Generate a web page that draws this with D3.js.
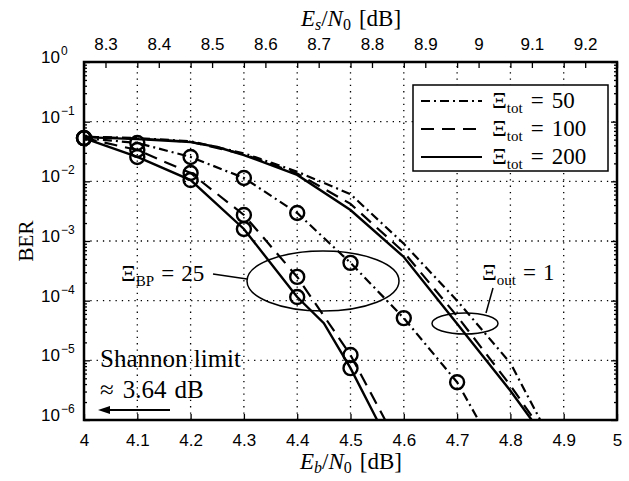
<!DOCTYPE html>
<meta charset="utf-8">
<title>BER vs Eb/N0</title>
<style>
body { margin: 0; background: #fff; }
.tick-label { font: 17px "Liberation Sans", Arial, sans-serif; }
.math { font-family: "Liberation Serif", "Times New Roman", serif; }
</style>
<svg id="chart" width="629" height="481"></svg>
<script src="https://cdn.jsdelivr.net/npm/d3@7"></script>
<script>

// axis ticks
var ebTicks = [4, 4.1, 4.2, 4.3, 4.4, 4.5, 4.6, 4.7, 4.8, 4.9, 5];
var esTicks = [8.3, 8.4, 8.5, 8.6, 8.7, 8.8, 8.9, 9, 9.1, 9.2];
var berExps = [0, -1, -2, -3, -4, -5, -6];
var esOffset = 10 * Math.log10(8 / 3); // Es/N0 - Eb/N0 in dB

// Xi_BP = 25 curves (with circle markers)
var bp50x  = [4.0, 4.1, 4.2, 4.3, 4.4, 4.5, 4.6, 4.7, 4.74];
var bp50y  = [5.3e-2, 4.4e-2, 2.56e-2, 1.14e-2, 2.95e-3, 4.3e-4, 5.1e-5, 4.3e-6, 1e-6];
var bp100x = [4.0, 4.1, 4.2, 4.3, 4.4, 4.5, 4.565];
var bp100y = [5.3e-2, 3.35e-2, 1.38e-2, 2.73e-3, 2.5e-4, 1.23e-5, 1e-6];
var bp200x = [4.0, 4.1, 4.2, 4.3, 4.4, 4.45, 4.5, 4.55];
var bp200y = [5.3e-2, 2.56e-2, 1.05e-2, 1.59e-3, 1.15e-4, 4.2e-5, 7.4e-6, 1e-6];

// Xi_out = 1 curves (no markers)
var out50x  = [4.0, 4.1, 4.2, 4.3, 4.4, 4.5, 4.6, 4.7, 4.8, 4.856];
var out50y  = [5.6e-2, 5.3e-2, 4.7e-2, 2.95e-2, 1.45e-2, 6.1e-3, 9e-4, 1.0e-4, 9e-6, 1e-6];
var out100x = [4.0, 4.1, 4.2, 4.3, 4.4, 4.5, 4.6, 4.7, 4.8, 4.845];
var out100y = [5.6e-2, 5.2e-2, 4.6e-2, 2.85e-2, 1.35e-2, 4.2e-3, 6.5e-4, 5.5e-5, 3.8e-6, 1e-6];
var out200x = [4.0, 4.1, 4.2, 4.25, 4.3, 4.4, 4.5, 4.6, 4.7, 4.8, 4.84];
var out200y = [5.5e-2, 5.1e-2, 4.55e-2, 3.76e-2, 2.76e-2, 1.28e-2, 3.3e-3, 5.4e-4, 4.1e-5, 3.1e-6, 1e-6];

var legendLabels = ["50", "100", "200"];

var dashes = { 50: "9,4,2,4", 100: "13,8", 200: null };

var svg = d3.select("#chart"),
    pLeft = 84, pRight = 617, pTop = 62, pBottom = 420;

var x = d3.scaleLinear().domain([4, 5]).range([pLeft, pRight]);
var xTop = d3.scaleLinear().domain([4 + esOffset, 5 + esOffset]).range([pLeft, pRight]);
var y = d3.scaleLog().domain([1e-6, 1]).range([pBottom, pTop]);

// grid
var grid = svg.append("g").attr("stroke", "#000").attr("stroke-width", 1.3)
    .attr("stroke-dasharray", "1.3,5");
grid.selectAll("line.v").data(ebTicks.slice(1, -1)).enter().append("line")
    .attr("x1", function(d) { return x(d); }).attr("x2", function(d) { return x(d); })
    .attr("y1", pBottom).attr("y2", pTop);
grid.selectAll("line.h").data(berExps.slice(1, -1)).enter().append("line")
    .attr("y1", function(d) { return y(Math.pow(10, d)); }).attr("y2", function(d) { return y(Math.pow(10, d)); })
    .attr("x1", pLeft).attr("x2", pRight);

// axes (inward ticks)
var minor = [];
berExps.slice(1).forEach(function(e) {
  for (var k = 2; k <= 9; k++) minor.push(k * Math.pow(10, e));
});
var major = berExps.map(function(e) { return Math.pow(10, e); });

var gB = svg.append("g").attr("transform", "translate(0," + pBottom + ")")
    .call(d3.axisBottom(x).tickValues(ebTicks).tickSize(-6).tickPadding(14).tickFormat(d3.format("")));
var gT = svg.append("g").attr("transform", "translate(0," + pTop + ")")
    .call(d3.axisTop(xTop).tickValues(esTicks).tickSize(-6).tickPadding(12).tickFormat(d3.format("")));
var gT2 = svg.append("g").attr("transform", "translate(0," + pTop + ")")
    .call(d3.axisTop(x).tickValues(ebTicks).tickSize(-6).tickFormat(""));
var gL = svg.append("g").attr("transform", "translate(" + pLeft + ",0)")
    .call(d3.axisLeft(y).tickValues(major).tickSize(-6).tickFormat(""));
var gLm = svg.append("g").attr("transform", "translate(" + pLeft + ",0)")
    .call(d3.axisLeft(y).tickValues(minor).tickSize(-3).tickFormat(""));
var gR = svg.append("g").attr("transform", "translate(" + pRight + ",0)")
    .call(d3.axisRight(y).tickValues(major).tickSize(-6).tickFormat(""));
var gRm = svg.append("g").attr("transform", "translate(" + pRight + ",0)")
    .call(d3.axisRight(y).tickValues(minor).tickSize(-3).tickFormat(""));

[gB, gT, gT2, gL, gLm, gR, gRm].forEach(function(g) {
  g.select(".domain").remove();
  g.selectAll("line").attr("stroke", "#000").attr("stroke-width", 1.3);
  g.selectAll("text").attr("fill", "#000").style("font-size", "17px")
      .style("font-family", "'Liberation Sans', Arial, sans-serif");
});

// y tick labels 10^e
var yl = svg.append("g").attr("class", "tick-label");
berExps.forEach(function(e) {
  var yy = y(Math.pow(10, e));
  yl.append("text").attr("x", 60).attr("y", yy + 1).attr("text-anchor", "end")
      .style("font-size", "17px").text("10");
  yl.append("text").attr("x", 61).attr("y", yy - 7).style("font-size", "12px")
      .text(e === 0 ? "0" : "\u2212" + (-e));
});

// frame
svg.append("rect").attr("x", pLeft).attr("y", pTop).attr("width", pRight - pLeft).attr("height", pBottom - pTop)
    .attr("fill", "none").attr("stroke", "#000").attr("stroke-width", 2.5);

// curves
var line = d3.line()
    .x(function(d) { return x(d[0]); })
    .y(function(d) { return y(d[1]); });

var series = [
  { xs: out50x,  ys: out50y,  tot: 50,  marks: false },
  { xs: out100x, ys: out100y, tot: 100, marks: false },
  { xs: out200x, ys: out200y, tot: 200, marks: false },
  { xs: bp50x,   ys: bp50y,   tot: 50,  marks: true },
  { xs: bp100x,  ys: bp100y,  tot: 100, marks: true },
  { xs: bp200x,  ys: bp200y,  tot: 200, marks: true }
];

var curves = svg.append("g");
series.forEach(function(s) {
  var pts = d3.zip(s.xs, s.ys);
  curves.append("path").datum(pts)
      .attr("d", line)
      .attr("fill", "none").attr("stroke", "#000")
      .attr("stroke-width", s.tot === 200 ? 2.4 : 2.2)
      .attr("stroke-dasharray", dashes[s.tot]);
  if (s.marks) {
    curves.selectAll(null)
      .data(pts.filter(function(p) { return Math.abs(p[0] * 10 - Math.round(p[0] * 10)) < 1e-6 && p[1] > 1e-6; }))
      .enter().append("circle")
        .attr("cx", function(p) { return x(p[0]); })
        .attr("cy", function(p) { return y(p[1]); })
        .attr("r", 7).attr("fill", "none").attr("stroke", "#000").attr("stroke-width", 2.4);
  }
});

// Xi_sub = value, LaTeX-like spacing
function xiLabel(g, xx, yy, sub, val, size, gap) {
  var t = g.append("text").attr("class", "math").attr("x", xx).attr("y", yy).style("font-size", size + "px");
  t.append("tspan").text("\u039E");
  t.append("tspan").attr("dy", 5).style("font-size", Math.round(size * 0.66) + "px").text(sub);
  t.append("tspan").attr("dy", -5).attr("dx", gap).text("=");
  t.append("tspan").attr("dx", gap).text(val);
}

// legend
var leg = svg.append("g");
leg.append("rect").attr("x", 413).attr("y", 85).attr("width", 195).attr("height", 86)
    .attr("fill", "#fff").attr("stroke", "#000").attr("stroke-width", 1.5);
[50, 100, 200].forEach(function(tot, i) {
  var ly = 101 + i * 28;
  leg.append("line").attr("x1", 421).attr("x2", 482).attr("y1", ly).attr("y2", ly)
      .attr("stroke", "#000").attr("stroke-width", 2).attr("stroke-dasharray", dashes[tot]);
  xiLabel(leg, 492, ly + 7, "tot", legendLabels[i], 23, 8);
});

// annotations
var ann = svg.append("g");
ann.append("ellipse").attr("cx", 323).attr("cy", 281).attr("rx", 76).attr("ry", 30)
    .attr("fill", "none").attr("stroke", "#000").attr("stroke-width", 1.5);
ann.append("line").attr("x1", 213).attr("y1", 274).attr("x2", 247).attr("y2", 279)
    .attr("stroke", "#000").attr("stroke-width", 1.5);
xiLabel(ann, 121, 281, "BP", "25", 23, 7);

ann.append("ellipse").attr("cx", 465).attr("cy", 323.5).attr("rx", 33).attr("ry", 10.5)
    .attr("fill", "none").attr("stroke", "#000").attr("stroke-width", 1.5);
ann.append("line").attr("x1", 493).attr("y1", 288).attr("x2", 486).attr("y2", 313)
    .attr("stroke", "#000").attr("stroke-width", 1.5);
xiLabel(ann, 482, 280, "out", "1", 23, 7);

ann.append("text").attr("class", "math").attr("x", 100).attr("y", 367).style("font-size", "25px")
    .text("Shannon limit");
var approx = ann.append("text").attr("class", "math").attr("x", 100).attr("y", 398).style("font-size", "25px");
approx.append("tspan").text("\u2248");
approx.append("tspan").attr("dx", 9).text("3.64");
approx.append("tspan").attr("dx", 8).text("dB");
ann.append("line").attr("x1", 170).attr("y1", 410).attr("x2", 106).attr("y2", 410)
    .attr("stroke", "#000").attr("stroke-width", 2);
ann.append("path").attr("d", "M98,410 L110,406 L110,414 Z").attr("fill", "#000");

// axis titles
function axisTitle(xx, yy, sub) {
  var t = svg.append("text").attr("class", "math").attr("x", xx).attr("y", yy)
      .attr("text-anchor", "middle").style("font-size", "23px");
  t.append("tspan").style("font-style", "italic").text("E");
  t.append("tspan").attr("dy", 4).style("font-size", "16px").style("font-style", "italic").text(sub);
  t.append("tspan").attr("dy", -4).text("/");
  t.append("tspan").style("font-style", "italic").text("N");
  t.append("tspan").attr("dy", 4).style("font-size", "16px").text("0");
  t.append("tspan").attr("dy", -4).attr("dx", 8).text("[dB]");
}
axisTitle(351, 469, "b");
axisTitle(351, 26, "s");

svg.append("text").attr("class", "math").attr("transform", "translate(33,241) rotate(-90)")
    .attr("text-anchor", "middle").style("font-size", "21px").text("BER");

</script>
